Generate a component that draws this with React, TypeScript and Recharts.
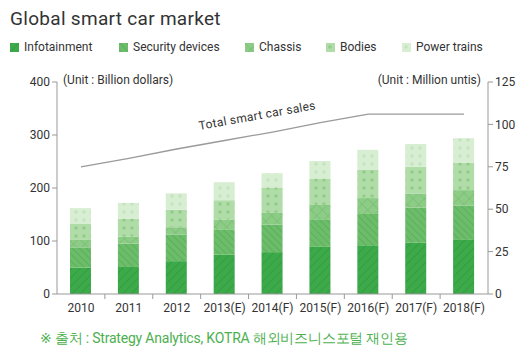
import {
  ComposedChart,
  Bar,
  Line,
  XAxis,
  YAxis,
} from "recharts";

const years = ["2010", "2011", "2012", "2013(E)", "2014(F)", "2015(F)", "2016(F)", "2017(F)", "2018(F)"];
const infotainment = [50, 51, 62, 74, 79, 89, 92, 97, 102];
const security = [38, 44, 50, 47, 52, 52, 59, 66, 65];
const chassis = [15, 13, 14, 19, 22, 27, 30, 26, 29];
const bodies = [30, 34, 33, 37, 48, 49, 53, 51, 52];
const powerTrains = [29, 30, 31, 34, 27, 34, 38, 43, 46];
const totalSales = [75, 80, 85.5, 90.5, 95.5, 101, 106, 106, 106];

const leftTicks = [0, 100, 200, 300, 400];
const rightTicks = [0, 25, 50, 75, 100, 125];

const seriesNames = ["Infotainment", "Security devices", "Chassis", "Bodies", "Power trains"];
const seriesKeys = ["info", "security", "chassis", "bodies", "power"];
const legendX = [10, 119, 245, 326, 402];

const data = years.map((year, i) => ({
  year,
  info: infotainment[i],
  security: security[i],
  chassis: chassis[i],
  bodies: bodies[i],
  power: powerTrains[i],
  total: totalSales[i],
}));

const FONT = "Roboto, 'DejaVu Sans', sans-serif";
const PLOT_LEFT = 57;
const PLOT_RIGHT = 488;
const BAND = (PLOT_RIGHT - PLOT_LEFT) / years.length;

function XTick(props: any) {
  const { x, y, payload, index } = props;
  return (
    <g>
      {index > 0 && (
        <line x1={x - BAND / 2} x2={x - BAND / 2} y1={y - 8} y2={y - 3} stroke="#999" />
      )}
      <text x={x} y={y + 10} textAnchor="middle" fill="#333" fontSize={12} fontFamily={FONT}>
        {payload.value}
      </text>
    </g>
  );
}

export default function App() {
  return (
    <div style={{ position: "absolute", left: 0, top: 0, width: 528, height: 354, background: "#fff", fontFamily: FONT }}>
      <div style={{ position: "absolute", left: 10, top: 7, fontSize: 19, color: "#333", letterSpacing: 0.3 }}>
        Global smart car market
      </div>
      {seriesNames.map((name, i) => (
        <div key={name} style={{ position: "absolute", left: legendX[i], top: 40, display: "flex", alignItems: "center", fontSize: 12, color: "#333" }}>
          <svg width={9} height={9} style={{ marginRight: 5 }}>
            <rect width={9} height={9} fill={`url(#pat-${seriesKeys[i]})`} />
          </svg>
          {name}
        </div>
      ))}
      <div style={{ position: "absolute", left: 63, top: 73, fontSize: 12, color: "#333" }}>(Unit : Billion dollars)</div>
      <div style={{ position: "absolute", right: 47, top: 73, fontSize: 12, color: "#333" }}>(Unit : Million untis)</div>

      <div style={{ position: "absolute", left: 0, top: 0 }}>
        <ComposedChart width={528} height={354} data={data} margin={{ top: 82, right: 0, bottom: 0, left: 0 }}>
          <defs>
            <pattern id="pat-info" width="6" height="6" patternUnits="userSpaceOnUse" patternTransform="rotate(45)">
              <rect width="6" height="6" fill="#3daa4a" />
              <line x1="0" y1="0" x2="0" y2="6" stroke="#2c8f3c" strokeWidth="1" />
            </pattern>
            <pattern id="pat-security" width="5" height="5" patternUnits="userSpaceOnUse" patternTransform="rotate(-45)">
              <rect width="5" height="5" fill="#6cbd6a" />
              <line x1="0" y1="0" x2="0" y2="5" stroke="#509f50" strokeWidth="1" />
            </pattern>
            <pattern id="pat-chassis" width="8" height="8" patternUnits="userSpaceOnUse" patternTransform="rotate(45)">
              <rect width="8" height="8" fill="#8ccc86" />
              <line x1="0" y1="0" x2="0" y2="8" stroke="#72b86d" strokeWidth="1" />
              <line x1="0" y1="0" x2="8" y2="0" stroke="#72b86d" strokeWidth="1" />
            </pattern>
            <pattern id="pat-bodies" width="8" height="8" patternUnits="userSpaceOnUse">
              <rect width="8" height="8" fill="#b0dca8" />
              <circle cx="4" cy="4" r="1.8" fill="#94cc8c" />
            </pattern>
            <pattern id="pat-power" width="8" height="8" patternUnits="userSpaceOnUse">
              <rect width="8" height="8" fill="#d8eed3" />
              <line x1="4" y1="2" x2="4" y2="6" stroke="#bfe0b8" strokeWidth="1" />
              <line x1="2" y1="4" x2="6" y2="4" stroke="#bfe0b8" strokeWidth="1" />
            </pattern>
          </defs>
          <XAxis
            dataKey="year"
            height={60}
            stroke="#999"
            tickLine={false}
            tick={<XTick />}
            interval={0}
          />
          <YAxis
            yAxisId="left"
            width={PLOT_LEFT}
            domain={[0, 400]}
            ticks={leftTicks}
            stroke="#999"
            tickSize={5}
            tick={{ fill: "#333", fontSize: 12, fontFamily: FONT }}
          />
          <YAxis
            yAxisId="right"
            orientation="right"
            width={528 - PLOT_RIGHT}
            domain={[0, 125]}
            ticks={rightTicks}
            stroke="#999"
            tickSize={5}
            tick={{ fill: "#333", fontSize: 12, fontFamily: FONT }}
          />
          {seriesKeys.map((key, i) => (
            <Bar
              key={key}
              yAxisId="left"
              dataKey={key}
              name={seriesNames[i]}
              stackId="a"
              barSize={21}
              fill={`url(#pat-${key})`}
              isAnimationActive={false}
            />
          ))}
          <Line
            yAxisId="right"
            dataKey="total"
            type="linear"
            stroke="#9a9a9a"
            strokeWidth={1.3}
            dot={false}
            isAnimationActive={false}
          />
        </ComposedChart>
      </div>

      <div
        style={{
          position: "absolute",
          left: 200,
          top: 119,
          fontSize: 12,
          color: "#333",
          transform: "rotate(-10.2deg)",
          transformOrigin: "left bottom",
          whiteSpace: "nowrap",
          letterSpacing: 0.3,
        }}
      >
        Total smart car sales
      </div>

      <div style={{ position: "absolute", left: 40, top: 330, fontSize: 14, color: "#4cb04f", whiteSpace: "nowrap", letterSpacing: -0.2 }}>
        ※ 출처 : Strategy Analytics, KOTRA 해외비즈니스포털 재인용
      </div>
    </div>
  );
}
